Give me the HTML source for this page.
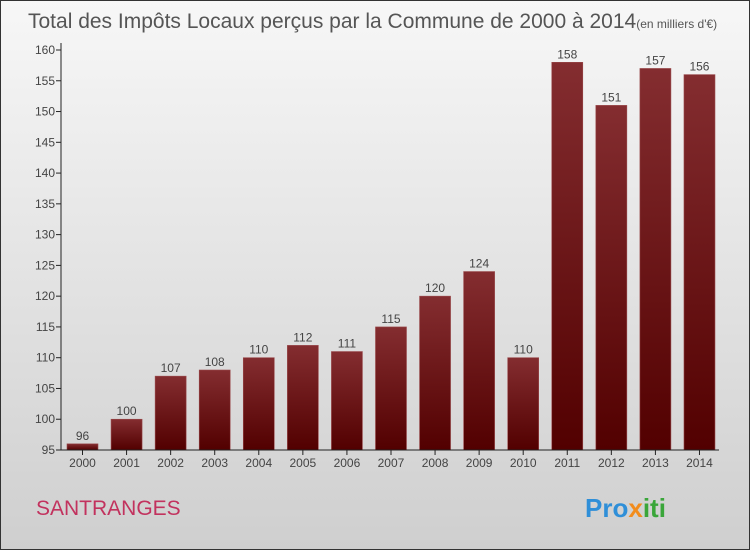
<!DOCTYPE html>
<html><head><meta charset="utf-8"><style>
body{margin:0}
#c{width:748px;height:548px;border:1px solid #333;background:linear-gradient(#f7f7f7,#cfcfcf);position:relative;font-family:"Liberation Sans",sans-serif;overflow:hidden}
</style></head><body>
<div id="c">
<svg id="s" width="748" height="548" xmlns="http://www.w3.org/2000/svg">
<defs><linearGradient id="g" x1="0" y1="0" x2="0" y2="1"><stop offset="0" stop-color="#842d30"/><stop offset="1" stop-color="#520000"/></linearGradient></defs>
<text x="27" y="27" font-size="21" fill="#555">Total des Impôts Locaux perçus par la Commune de 2000 à 2014<tspan font-size="12">(en milliers d'€)</tspan></text>
<text x="35" y="514" font-size="21" fill="#c2325e">SANTRANGES</text>
<text x="584" y="516" font-size="26" font-weight="bold"><tspan fill="#2f8fd8">Pro</tspan><tspan fill="#f28c1c">x</tspan><tspan fill="#3aa63a">iti</tspan></text>
<g id="plot"></g>
</svg>
</div>
<script>
const years=["2000","2001","2002","2003","2004","2005","2006","2007","2008","2009","2010","2011","2012","2013","2014"];
const values=[96,100,107,108,110,112,111,115,120,124,110,158,151,157,156];
const ticks=[95,100,105,110,115,120,125,130,135,140,145,150,155,160];
const NS="http://www.w3.org/2000/svg";
const g=document.getElementById('plot');
const y=v=>449-(v-95)*(449-49)/65;
const x=i=>66+i*44.07;
function mk(t,a){const e=document.createElementNS(NS,t);for(const k in a)e.setAttribute(k,a[k]);g.appendChild(e);return e;}
ticks.forEach(t=>{
 const l=mk('line',{x1:55,x2:60,y1:y(t),y2:y(t),stroke:'#222'});
 
 
 const tx=mk('text',{x:54,y:y(t)+4,'text-anchor':'end','font-size':12,fill:'#444'});
 tx.textContent=t;
 
 
});
values.forEach((v,i)=>{
 const r=mk('rect',{x:x(i),y:y(v),width:31,height:y(95)-y(v),fill:'url(#g)',stroke:'#9a4a4c','stroke-width':0.6});
 
 
 const vt=mk('text',{x:x(i)+15.5,y:y(v)-4,'text-anchor':'middle','font-size':12,fill:'#444'});
 vt.textContent=v;
 
 
 const tk=mk('line',{x1:x(i)+15.5,x2:x(i)+15.5,y1:449,y2:454,stroke:'#222'});
 
 
 const xt=mk('text',{x:x(i)+15.5,y:466,'text-anchor':'middle','font-size':12,fill:'#444'});
 xt.textContent=years[i];
 
 
});
const ya=mk('line',{x1:60,x2:60,y1:42,y2:449,stroke:'#222'});


const xa=mk('line',{x1:60,x2:718,y1:449,y2:449,stroke:'#222'});


</script>
</body></html>
